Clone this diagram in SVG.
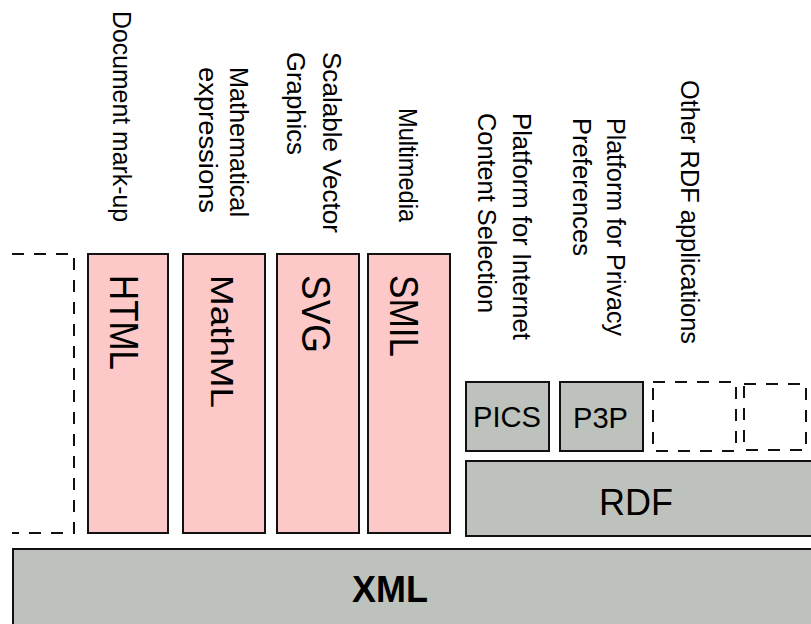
<svg xmlns="http://www.w3.org/2000/svg" width="811" height="624" viewBox="0 0 811 624">
<style>
.bg{fill:#ffffff}
.pink{fill:#fcc8c8;stroke:#111;stroke-width:2}
.gray{fill:#bec2bc;stroke:#111;stroke-width:2}
.dash{fill:none;stroke:#111;stroke-width:2;stroke-dasharray:12 10}
.lbl{font-family:"Liberation Sans",Arial,sans-serif;font-size:25px;fill:#000}
.box{font-family:"Liberation Sans",Arial,sans-serif;font-size:36px;fill:#000}
.xml{font-family:"Liberation Sans",Arial,sans-serif;font-size:36px;font-weight:bold;fill:#000}
</style>
<rect class="bg" x="0" y="0" width="811" height="624"/>

<g id="labels">
  <text class="lbl" transform="translate(113,11) rotate(90)" textLength="211" lengthAdjust="spacingAndGlyphs">Document mark-up</text>
  <text class="lbl" transform="translate(230,67) rotate(90)" textLength="150" lengthAdjust="spacingAndGlyphs">Mathematical</text>
  <text class="lbl" transform="translate(199,67) rotate(90)" textLength="146" lengthAdjust="spacingAndGlyphs">expressions</text>
  <text class="lbl" transform="translate(323,52) rotate(90)" textLength="181" lengthAdjust="spacingAndGlyphs">Scalable Vector</text>
  <text class="lbl" transform="translate(287,52) rotate(90)" textLength="103" lengthAdjust="spacingAndGlyphs">Graphics</text>
  <text class="lbl" transform="translate(399,108) rotate(90)" textLength="114" lengthAdjust="spacingAndGlyphs">Multimedia</text>
  <text class="lbl" transform="translate(513,113) rotate(90)" textLength="227" lengthAdjust="spacingAndGlyphs">Platform for Internet</text>
  <text class="lbl" transform="translate(478,113) rotate(90)" textLength="200" lengthAdjust="spacingAndGlyphs">Content Selection</text>
  <text class="lbl" transform="translate(607,118) rotate(90)" textLength="218" lengthAdjust="spacingAndGlyphs">Platform for Privacy</text>
  <text class="lbl" transform="translate(573,118) rotate(90)" textLength="138" lengthAdjust="spacingAndGlyphs">Preferences</text>
  <text class="lbl" transform="translate(681,80) rotate(90)" textLength="264" lengthAdjust="spacingAndGlyphs">Other RDF applications</text>
</g>

<g id="other-markup">
  <path class="dash" d="M12,254 H74 V533 H12"/>
</g>
<g id="html">
  <rect class="pink" x="88" y="254" width="80" height="279"/>
  <text class="box" transform="translate(110,275) rotate(90)" textLength="95" lengthAdjust="spacingAndGlyphs" style="font-size:40px">HTML</text>
</g>
<g id="mathml">
  <rect class="pink" x="183" y="254" width="82" height="279"/>
  <text class="box" transform="translate(211,275) rotate(90)" textLength="133" lengthAdjust="spacingAndGlyphs" style="font-size:32px">MathML</text>
</g>
<g id="svg">
  <rect class="pink" x="277" y="254" width="82" height="279"/>
  <text class="box" transform="translate(302,275) rotate(90)" textLength="78" lengthAdjust="spacingAndGlyphs" style="font-size:40px">SVG</text>
</g>
<g id="smil">
  <rect class="pink" x="368" y="254" width="82" height="279"/>
  <text class="box" transform="translate(390,275) rotate(90)" textLength="82" lengthAdjust="spacingAndGlyphs" style="font-size:40px">SMIL</text>
</g>
<g id="pics">
  <rect class="gray" x="466" y="382" width="83" height="69"/>
  <text class="box" x="473" y="427" textLength="68" lengthAdjust="spacingAndGlyphs" style="font-size:30px">PICS</text>
</g>
<g id="p3p">
  <rect class="gray" x="560" y="382" width="83" height="69"/>
  <text class="box" x="573" y="428" textLength="55" lengthAdjust="spacingAndGlyphs" style="font-size:30px">P3P</text>
</g>
<g id="other-rdf-1">
  <rect class="dash" x="653" y="382" width="83" height="69"/>
</g>
<g id="other-rdf-2">
  <rect class="dash" x="744" y="384" width="62" height="66"/>
</g>
<g id="rdf">
  <rect class="gray" x="466" y="461" width="360" height="75"/>
  <text class="box" x="599" y="515" textLength="74" lengthAdjust="spacingAndGlyphs">RDF</text>
</g>
<g id="xml">
  <rect class="gray" x="13" y="549" width="810" height="90"/>
  <text class="xml" x="352" y="602" textLength="76" lengthAdjust="spacingAndGlyphs">XML</text>
</g>
<g id="connectors"></g>
</svg>
